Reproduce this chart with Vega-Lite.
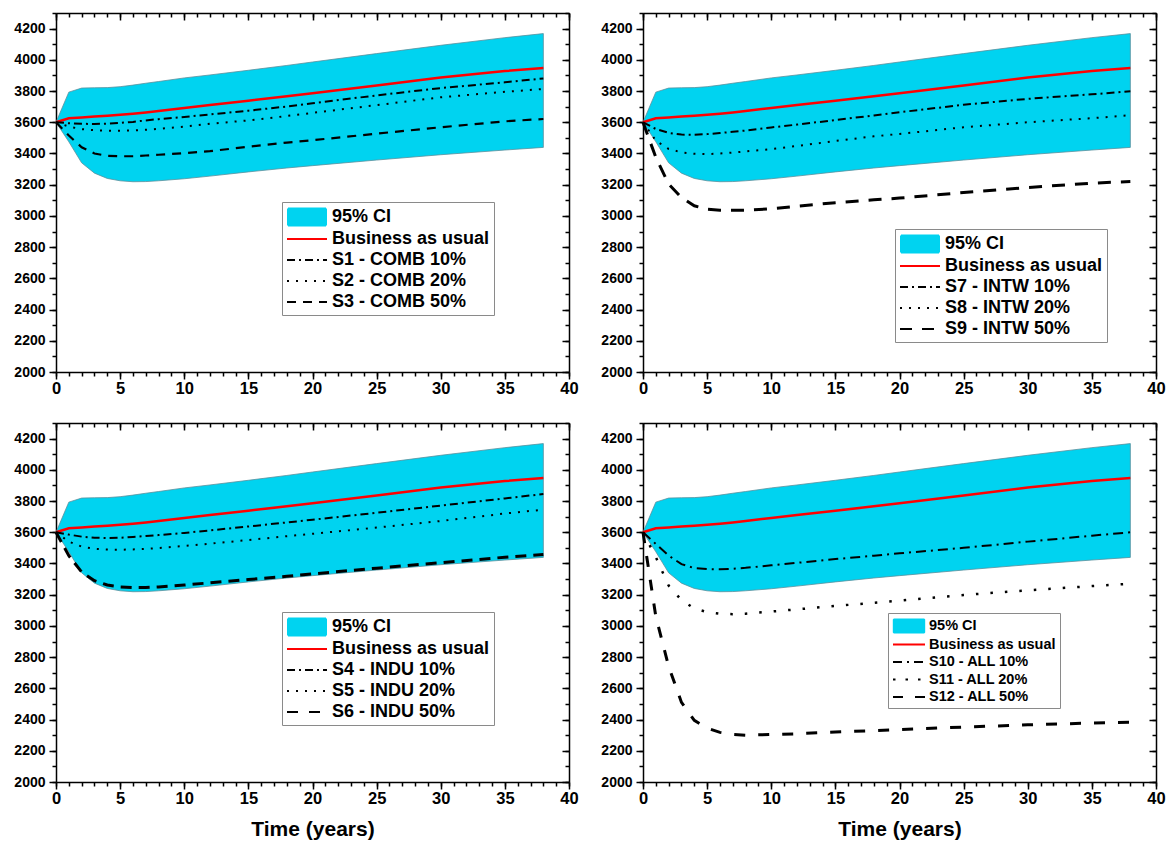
{
  "$schema": "https://vega.github.io/schema/vega-lite/v6.json",
  "background": "white",
  "padding": {"left": 13, "top": 12, "right": 0, "bottom": 2},
  "columns": 2,
  "spacing": {"row": 51, "column": 74},
  "bounds": "flush",
  "datasets": {
    "ci": [
      {"series":"95% CI","t":0,"hi":3600,"lo":3600},
      {"series":"95% CI","t":1,"hi":3793,"lo":3475},
      {"series":"95% CI","t":2,"hi":3819,"lo":3340},
      {"series":"95% CI","t":3,"hi":3821,"lo":3274},
      {"series":"95% CI","t":4,"hi":3822,"lo":3240},
      {"series":"95% CI","t":5,"hi":3828,"lo":3225},
      {"series":"95% CI","t":6,"hi":3838,"lo":3219},
      {"series":"95% CI","t":7,"hi":3850,"lo":3220},
      {"series":"95% CI","t":8,"hi":3861,"lo":3225},
      {"series":"95% CI","t":10,"hi":3884,"lo":3238},
      {"series":"95% CI","t":12,"hi":3903,"lo":3255},
      {"series":"95% CI","t":15,"hi":3933,"lo":3282},
      {"series":"95% CI","t":18,"hi":3964,"lo":3307},
      {"series":"95% CI","t":20,"hi":3986,"lo":3322},
      {"series":"95% CI","t":25,"hi":4040,"lo":3358},
      {"series":"95% CI","t":30,"hi":4093,"lo":3392},
      {"series":"95% CI","t":35,"hi":4142,"lo":3422},
      {"series":"95% CI","t":38,"hi":4168,"lo":3439}
    ],
    "lines": [
      {"series":"Business as usual","t":0,"v":3600},{"series":"Business as usual","t":1,"v":3625},{"series":"Business as usual","t":2,"v":3631},{"series":"Business as usual","t":3,"v":3637},{"series":"Business as usual","t":4,"v":3642},{"series":"Business as usual","t":5,"v":3648},{"series":"Business as usual","t":6,"v":3655},{"series":"Business as usual","t":7,"v":3663},{"series":"Business as usual","t":8,"v":3672},{"series":"Business as usual","t":10,"v":3692},{"series":"Business as usual","t":12,"v":3710},{"series":"Business as usual","t":15,"v":3738},{"series":"Business as usual","t":18,"v":3766},{"series":"Business as usual","t":20,"v":3786},{"series":"Business as usual","t":25,"v":3835},{"series":"Business as usual","t":30,"v":3887},{"series":"Business as usual","t":35,"v":3928},{"series":"Business as usual","t":38,"v":3948},

      {"series":"S1 - COMB 10%","t":0,"v":3600},{"series":"S1 - COMB 10%","t":1,"v":3594},{"series":"S1 - COMB 10%","t":2,"v":3590},{"series":"S1 - COMB 10%","t":3,"v":3589},{"series":"S1 - COMB 10%","t":4,"v":3591},{"series":"S1 - COMB 10%","t":5,"v":3596},{"series":"S1 - COMB 10%","t":6,"v":3602},{"series":"S1 - COMB 10%","t":7,"v":3612},{"series":"S1 - COMB 10%","t":8,"v":3620},{"series":"S1 - COMB 10%","t":10,"v":3634},{"series":"S1 - COMB 10%","t":12,"v":3650},{"series":"S1 - COMB 10%","t":15,"v":3674},{"series":"S1 - COMB 10%","t":18,"v":3701},{"series":"S1 - COMB 10%","t":20,"v":3722},{"series":"S1 - COMB 10%","t":25,"v":3772},{"series":"S1 - COMB 10%","t":30,"v":3819},{"series":"S1 - COMB 10%","t":35,"v":3856},{"series":"S1 - COMB 10%","t":38,"v":3881},

      {"series":"S2 - COMB 20%","t":0,"v":3600},{"series":"S2 - COMB 20%","t":1,"v":3572},{"series":"S2 - COMB 20%","t":2,"v":3556},{"series":"S2 - COMB 20%","t":3,"v":3549},{"series":"S2 - COMB 20%","t":4,"v":3546},{"series":"S2 - COMB 20%","t":5,"v":3546},{"series":"S2 - COMB 20%","t":6,"v":3548},{"series":"S2 - COMB 20%","t":7,"v":3552},{"series":"S2 - COMB 20%","t":8,"v":3558},{"series":"S2 - COMB 20%","t":10,"v":3572},{"series":"S2 - COMB 20%","t":12,"v":3590},{"series":"S2 - COMB 20%","t":15,"v":3612},{"series":"S2 - COMB 20%","t":18,"v":3640},{"series":"S2 - COMB 20%","t":20,"v":3660},{"series":"S2 - COMB 20%","t":25,"v":3710},{"series":"S2 - COMB 20%","t":30,"v":3760},{"series":"S2 - COMB 20%","t":35,"v":3795},{"series":"S2 - COMB 20%","t":38,"v":3813},

      {"series":"S3 - COMB 50%","t":0,"v":3600},{"series":"S3 - COMB 50%","t":1,"v":3515},{"series":"S3 - COMB 50%","t":2,"v":3440},{"series":"S3 - COMB 50%","t":3,"v":3400},{"series":"S3 - COMB 50%","t":4,"v":3385},{"series":"S3 - COMB 50%","t":5,"v":3382},{"series":"S3 - COMB 50%","t":6,"v":3383},{"series":"S3 - COMB 50%","t":7,"v":3387},{"series":"S3 - COMB 50%","t":8,"v":3392},{"series":"S3 - COMB 50%","t":10,"v":3402},{"series":"S3 - COMB 50%","t":12,"v":3415},{"series":"S3 - COMB 50%","t":15,"v":3443},{"series":"S3 - COMB 50%","t":18,"v":3470},{"series":"S3 - COMB 50%","t":20,"v":3485},{"series":"S3 - COMB 50%","t":25,"v":3527},{"series":"S3 - COMB 50%","t":30,"v":3568},{"series":"S3 - COMB 50%","t":35,"v":3606},{"series":"S3 - COMB 50%","t":38,"v":3621},

      {"series":"S7 - INTW 10%","t":0,"v":3600},{"series":"S7 - INTW 10%","t":1,"v":3557},{"series":"S7 - INTW 10%","t":2,"v":3532},{"series":"S7 - INTW 10%","t":3,"v":3521},{"series":"S7 - INTW 10%","t":4,"v":3520},{"series":"S7 - INTW 10%","t":5,"v":3524},{"series":"S7 - INTW 10%","t":6,"v":3531},{"series":"S7 - INTW 10%","t":7,"v":3539},{"series":"S7 - INTW 10%","t":8,"v":3547},{"series":"S7 - INTW 10%","t":10,"v":3567},{"series":"S7 - INTW 10%","t":12,"v":3585},{"series":"S7 - INTW 10%","t":15,"v":3614},{"series":"S7 - INTW 10%","t":18,"v":3644},{"series":"S7 - INTW 10%","t":20,"v":3664},{"series":"S7 - INTW 10%","t":25,"v":3712},{"series":"S7 - INTW 10%","t":30,"v":3750},{"series":"S7 - INTW 10%","t":35,"v":3779},{"series":"S7 - INTW 10%","t":38,"v":3798},

      {"series":"S8 - INTW 20%","t":0,"v":3600},{"series":"S8 - INTW 20%","t":1,"v":3482},{"series":"S8 - INTW 20%","t":2,"v":3429},{"series":"S8 - INTW 20%","t":3,"v":3407},{"series":"S8 - INTW 20%","t":4,"v":3398},{"series":"S8 - INTW 20%","t":5,"v":3396},{"series":"S8 - INTW 20%","t":6,"v":3400},{"series":"S8 - INTW 20%","t":7,"v":3406},{"series":"S8 - INTW 20%","t":8,"v":3413},{"series":"S8 - INTW 20%","t":10,"v":3428},{"series":"S8 - INTW 20%","t":12,"v":3448},{"series":"S8 - INTW 20%","t":15,"v":3480},{"series":"S8 - INTW 20%","t":18,"v":3510},{"series":"S8 - INTW 20%","t":20,"v":3525},{"series":"S8 - INTW 20%","t":25,"v":3568},{"series":"S8 - INTW 20%","t":30,"v":3600},{"series":"S8 - INTW 20%","t":35,"v":3626},{"series":"S8 - INTW 20%","t":38,"v":3645},

      {"series":"S9 - INTW 50%","t":0,"v":3600},{"series":"S9 - INTW 50%","t":1,"v":3375},{"series":"S9 - INTW 50%","t":2,"v":3204},{"series":"S9 - INTW 50%","t":3,"v":3118},{"series":"S9 - INTW 50%","t":4,"v":3065},{"series":"S9 - INTW 50%","t":5,"v":3043},{"series":"S9 - INTW 50%","t":6,"v":3037},{"series":"S9 - INTW 50%","t":7,"v":3036},{"series":"S9 - INTW 50%","t":8,"v":3037},{"series":"S9 - INTW 50%","t":10,"v":3046},{"series":"S9 - INTW 50%","t":12,"v":3062},{"series":"S9 - INTW 50%","t":15,"v":3085},{"series":"S9 - INTW 50%","t":18,"v":3103},{"series":"S9 - INTW 50%","t":20,"v":3114},{"series":"S9 - INTW 50%","t":25,"v":3150},{"series":"S9 - INTW 50%","t":30,"v":3182},{"series":"S9 - INTW 50%","t":35,"v":3210},{"series":"S9 - INTW 50%","t":38,"v":3220},

      {"series":"S4 - INDU 10%","t":0,"v":3600},{"series":"S4 - INDU 10%","t":1,"v":3585},{"series":"S4 - INDU 10%","t":2,"v":3572},{"series":"S4 - INDU 10%","t":3,"v":3565},{"series":"S4 - INDU 10%","t":4,"v":3563},{"series":"S4 - INDU 10%","t":5,"v":3565},{"series":"S4 - INDU 10%","t":6,"v":3570},{"series":"S4 - INDU 10%","t":7,"v":3576},{"series":"S4 - INDU 10%","t":8,"v":3582},{"series":"S4 - INDU 10%","t":10,"v":3596},{"series":"S4 - INDU 10%","t":12,"v":3612},{"series":"S4 - INDU 10%","t":15,"v":3637},{"series":"S4 - INDU 10%","t":18,"v":3663},{"series":"S4 - INDU 10%","t":20,"v":3680},{"series":"S4 - INDU 10%","t":25,"v":3725},{"series":"S4 - INDU 10%","t":30,"v":3771},{"series":"S4 - INDU 10%","t":35,"v":3817},{"series":"S4 - INDU 10%","t":38,"v":3845},

      {"series":"S5 - INDU 20%","t":0,"v":3600},{"series":"S5 - INDU 20%","t":1,"v":3540},{"series":"S5 - INDU 20%","t":2,"v":3508},{"series":"S5 - INDU 20%","t":3,"v":3494},{"series":"S5 - INDU 20%","t":4,"v":3489},{"series":"S5 - INDU 20%","t":5,"v":3488},{"series":"S5 - INDU 20%","t":6,"v":3490},{"series":"S5 - INDU 20%","t":7,"v":3494},{"series":"S5 - INDU 20%","t":8,"v":3499},{"series":"S5 - INDU 20%","t":10,"v":3512},{"series":"S5 - INDU 20%","t":12,"v":3527},{"series":"S5 - INDU 20%","t":15,"v":3550},{"series":"S5 - INDU 20%","t":18,"v":3575},{"series":"S5 - INDU 20%","t":20,"v":3590},{"series":"S5 - INDU 20%","t":25,"v":3630},{"series":"S5 - INDU 20%","t":30,"v":3672},{"series":"S5 - INDU 20%","t":35,"v":3720},{"series":"S5 - INDU 20%","t":38,"v":3745},

      {"series":"S6 - INDU 50%","t":0,"v":3600},{"series":"S6 - INDU 50%","t":1,"v":3450},{"series":"S6 - INDU 50%","t":2,"v":3345},{"series":"S6 - INDU 50%","t":3,"v":3290},{"series":"S6 - INDU 50%","t":4,"v":3262},{"series":"S6 - INDU 50%","t":5,"v":3250},{"series":"S6 - INDU 50%","t":6,"v":3246},{"series":"S6 - INDU 50%","t":7,"v":3246},{"series":"S6 - INDU 50%","t":8,"v":3250},{"series":"S6 - INDU 50%","t":10,"v":3262},{"series":"S6 - INDU 50%","t":12,"v":3276},{"series":"S6 - INDU 50%","t":15,"v":3297},{"series":"S6 - INDU 50%","t":18,"v":3318},{"series":"S6 - INDU 50%","t":20,"v":3333},{"series":"S6 - INDU 50%","t":25,"v":3370},{"series":"S6 - INDU 50%","t":30,"v":3405},{"series":"S6 - INDU 50%","t":35,"v":3440},{"series":"S6 - INDU 50%","t":38,"v":3458},

      {"series":"S10 - ALL 10%","t":0,"v":3600},{"series":"S10 - ALL 10%","t":1,"v":3525},{"series":"S10 - ALL 10%","t":2,"v":3450},{"series":"S10 - ALL 10%","t":3,"v":3396},{"series":"S10 - ALL 10%","t":4,"v":3370},{"series":"S10 - ALL 10%","t":5,"v":3364},{"series":"S10 - ALL 10%","t":6,"v":3363},{"series":"S10 - ALL 10%","t":7,"v":3366},{"series":"S10 - ALL 10%","t":8,"v":3372},{"series":"S10 - ALL 10%","t":10,"v":3388},{"series":"S10 - ALL 10%","t":12,"v":3404},{"series":"S10 - ALL 10%","t":15,"v":3428},{"series":"S10 - ALL 10%","t":18,"v":3450},{"series":"S10 - ALL 10%","t":20,"v":3465},{"series":"S10 - ALL 10%","t":25,"v":3500},{"series":"S10 - ALL 10%","t":30,"v":3540},{"series":"S10 - ALL 10%","t":35,"v":3578},{"series":"S10 - ALL 10%","t":38,"v":3600},

      {"series":"S11 - ALL 20%","t":0,"v":3600},{"series":"S11 - ALL 20%","t":1,"v":3440},{"series":"S11 - ALL 20%","t":2,"v":3258},{"series":"S11 - ALL 20%","t":3,"v":3165},{"series":"S11 - ALL 20%","t":4,"v":3112},{"series":"S11 - ALL 20%","t":5,"v":3088},{"series":"S11 - ALL 20%","t":6,"v":3078},{"series":"S11 - ALL 20%","t":7,"v":3075},{"series":"S11 - ALL 20%","t":8,"v":3078},{"series":"S11 - ALL 20%","t":10,"v":3092},{"series":"S11 - ALL 20%","t":12,"v":3106},{"series":"S11 - ALL 20%","t":15,"v":3128},{"series":"S11 - ALL 20%","t":18,"v":3148},{"series":"S11 - ALL 20%","t":20,"v":3162},{"series":"S11 - ALL 20%","t":25,"v":3198},{"series":"S11 - ALL 20%","t":30,"v":3228},{"series":"S11 - ALL 20%","t":35,"v":3255},{"series":"S11 - ALL 20%","t":38,"v":3270},

      {"series":"S12 - ALL 50%","t":0,"v":3600},{"series":"S12 - ALL 50%","t":1,"v":3060},{"series":"S12 - ALL 50%","t":2,"v":2740},{"series":"S12 - ALL 50%","t":3,"v":2510},{"series":"S12 - ALL 50%","t":4,"v":2395},{"series":"S12 - ALL 50%","t":5,"v":2345},{"series":"S12 - ALL 50%","t":6,"v":2318},{"series":"S12 - ALL 50%","t":7,"v":2304},{"series":"S12 - ALL 50%","t":8,"v":2300},{"series":"S12 - ALL 50%","t":10,"v":2304},{"series":"S12 - ALL 50%","t":12,"v":2309},{"series":"S12 - ALL 50%","t":15,"v":2320},{"series":"S12 - ALL 50%","t":18,"v":2329},{"series":"S12 - ALL 50%","t":20,"v":2336},{"series":"S12 - ALL 50%","t":25,"v":2352},{"series":"S12 - ALL 50%","t":30,"v":2366},{"series":"S12 - ALL 50%","t":35,"v":2378},{"series":"S12 - ALL 50%","t":38,"v":2383}
    ]
  },
  "concat": [
    {
      "width": 513, "height": 359,
      "resolve": {"axis": {"x": "independent", "y": "independent"}},
      "layer": [
        {"data": {"name": "ci"}, "mark": {"type": "area", "stroke": "#5a8f9c", "strokeWidth": 0.8, "opacity": 1},
         "encoding": {
           "x": {"field": "t", "type": "quantitative", "scale": {"domain": [0, 40], "nice": false}, "axis": {"orient": "bottom", "values": [0,5,10,15,20,25,30,35,40], "tickSize": 7, "labelFontSize": 16.5, "labelPadding": 1, "labelFlush": false, "labelOverlap": false, "title": null}},
           "y": {"field": "hi", "type": "quantitative", "scale": {"domain": [2000, 4300], "nice": false, "zero": false}, "axis": {"orient": "left", "values": [2000,2200,2400,2600,2800,3000,3200,3400,3600,3800,4000,4200], "format": "d", "tickSize": 7, "labelFontSize": 14, "labelPadding": 4, "labelFlush": false, "labelOverlap": false, "title": null}},
           "y2": {"field": "lo"},
           "color": {"field": "series", "type": "nominal", "scale": {"domain": ["95% CI","Business as usual","S1 - COMB 10%","S2 - COMB 20%","S3 - COMB 50%"], "range": ["#00d3f0","#ff0000","#000000","#000000","#000000"]},
             "legend": {"orient": "none", "legendX": 226, "legendY": 189, "title": null, "padding": 4, "fillColor": "white", "strokeColor": "#8a8a8a", "symbolSize": 400, "symbolStrokeWidth": 2, "labelFont": "Liberation Sans", "labelFontSize": 18, "labelFontWeight": "bold", "labelColor": "black", "labelOffset": 24, "labelLimit": 400, "rowPadding": 1,
               "encoding": {"symbols": {
                 "shape": {"condition": {"test": "datum.index === 0", "value": "M-0.9,-0.85H2.9V0.85H-0.9Z"}, "value": "M-1,0H3"},
                 "fill": {"condition": {"test": "datum.index === 0", "value": "#00d3f0"}, "value": "transparent"},
                 "stroke": {"condition": [{"test": "datum.index === 0", "value": "#3fb3c8"}, {"test": "datum.index === 1", "value": "#ff0000"}], "value": "#000000"},
                 "strokeDash": {"condition": [{"test": "datum.index === 2", "value": [8,4,2,4]}, {"test": "datum.index === 3", "value": [2,7]}, {"test": "datum.index === 4", "value": [9,7]}], "value": [1,0]},
                 "strokeJoin": {"value": "bevel"},
                 "opacity": {"value": 1}}}}}
         }},
        {"data": {"name": "lines"}, "transform": [{"filter": "datum.series === 'Business as usual'"}], "mark": {"type": "line", "strokeWidth": 2.5},
         "encoding": {
           "x": {"field": "t", "type": "quantitative", "scale": {"domain": [0, 40], "nice": false}, "axis": {"orient": "bottom", "values": [0,1,2,3,4,5,6,7,8,9,10,11,12,13,14,15,16,17,18,19,20,21,22,23,24,25,26,27,28,29,30,31,32,33,34,35,36,37,38,39,40], "tickSize": 4, "labels": false, "domain": false, "title": null}},
           "y": {"field": "v", "type": "quantitative", "scale": {"domain": [2000, 4300], "nice": false, "zero": false}, "axis": {"orient": "left", "values": [2000,2100,2200,2300,2400,2500,2600,2700,2800,2900,3000,3100,3200,3300,3400,3500,3600,3700,3800,3900,4000,4100,4200,4300], "tickSize": 4, "labels": false, "domain": false, "title": null}},
           "color": {"field": "series", "type": "nominal", "scale": {"domain": ["95% CI","Business as usual","S1 - COMB 10%","S2 - COMB 20%","S3 - COMB 50%"], "range": ["#00d3f0","#ff0000","#000000","#000000","#000000"]}, "legend": null}
         }},
        {"data": {"name": "lines"}, "transform": [{"filter": "datum.series === 'S1 - COMB 10%'"}], "mark": {"type": "line", "strokeWidth": 2, "strokeDash": [8,4,2,4]},
         "encoding": {
           "x": {"field": "t", "type": "quantitative", "scale": {"domain": [0, 40], "nice": false}, "axis": {"orient": "top", "values": [0,5,10,15,20,25,30,35,40], "tickSize": -7, "labels": false, "title": null}},
           "y": {"field": "v", "type": "quantitative", "scale": {"domain": [2000, 4300], "nice": false, "zero": false}, "axis": {"orient": "right", "values": [2000,2200,2400,2600,2800,3000,3200,3400,3600,3800,4000,4200], "tickSize": -7, "labels": false, "title": null}},
           "color": {"field": "series", "type": "nominal", "scale": {"domain": ["95% CI","Business as usual","S1 - COMB 10%","S2 - COMB 20%","S3 - COMB 50%"], "range": ["#00d3f0","#ff0000","#000000","#000000","#000000"]}, "legend": null}
         }},
        {"data": {"name": "lines"}, "transform": [{"filter": "datum.series === 'S2 - COMB 20%'"}], "mark": {"type": "line", "strokeWidth": 2, "strokeDash": [2,7]},
         "encoding": {
           "x": {"field": "t", "type": "quantitative", "scale": {"domain": [0, 40], "nice": false}, "axis": {"orient": "top", "values": [0,1,2,3,4,5,6,7,8,9,10,11,12,13,14,15,16,17,18,19,20,21,22,23,24,25,26,27,28,29,30,31,32,33,34,35,36,37,38,39,40], "tickSize": -4, "labels": false, "domain": false, "title": null}},
           "y": {"field": "v", "type": "quantitative", "scale": {"domain": [2000, 4300], "nice": false, "zero": false}, "axis": {"orient": "right", "values": [2000,2100,2200,2300,2400,2500,2600,2700,2800,2900,3000,3100,3200,3300,3400,3500,3600,3700,3800,3900,4000,4100,4200,4300], "tickSize": -4, "labels": false, "domain": false, "title": null}},
           "color": {"field": "series", "type": "nominal", "scale": {"domain": ["95% CI","Business as usual","S1 - COMB 10%","S2 - COMB 20%","S3 - COMB 50%"], "range": ["#00d3f0","#ff0000","#000000","#000000","#000000"]}, "legend": null}
         }},
        {"data": {"name": "lines"}, "transform": [{"filter": "datum.series === 'S3 - COMB 50%'"}], "mark": {"type": "line", "strokeWidth": 2.2, "strokeDash": [9,7]},
         "encoding": {
           "x": {"field": "t", "type": "quantitative", "scale": {"domain": [0, 40], "nice": false}, "axis": null},
           "y": {"field": "v", "type": "quantitative", "scale": {"domain": [2000, 4300], "nice": false, "zero": false}, "axis": null},
           "color": {"field": "series", "type": "nominal", "scale": {"domain": ["95% CI","Business as usual","S1 - COMB 10%","S2 - COMB 20%","S3 - COMB 50%"], "range": ["#00d3f0","#ff0000","#000000","#000000","#000000"]}, "legend": null}
         }}
      ]
    },
    {
      "width": 513, "height": 359,
      "resolve": {"axis": {"x": "independent", "y": "independent"}},
      "layer": [
        {"data": {"name": "ci"}, "mark": {"type": "area", "stroke": "#5a8f9c", "strokeWidth": 0.8, "opacity": 1},
         "encoding": {
           "x": {"field": "t", "type": "quantitative", "scale": {"domain": [0, 40], "nice": false}, "axis": {"orient": "bottom", "values": [0,5,10,15,20,25,30,35,40], "tickSize": 7, "labelFontSize": 16.5, "labelPadding": 1, "labelFlush": false, "labelOverlap": false, "title": null}},
           "y": {"field": "hi", "type": "quantitative", "scale": {"domain": [2000, 4300], "nice": false, "zero": false}, "axis": {"orient": "left", "values": [2000,2200,2400,2600,2800,3000,3200,3400,3600,3800,4000,4200], "format": "d", "tickSize": 7, "labelFontSize": 14, "labelPadding": 4, "labelFlush": false, "labelOverlap": false, "title": null}},
           "y2": {"field": "lo"},
           "color": {"field": "series", "type": "nominal", "scale": {"domain": ["95% CI","Business as usual","S7 - INTW 10%","S8 - INTW 20%","S9 - INTW 50%"], "range": ["#00d3f0","#ff0000","#000000","#000000","#000000"]},
             "legend": {"orient": "none", "legendX": 252, "legendY": 216, "title": null, "padding": 4, "fillColor": "white", "strokeColor": "#8a8a8a", "symbolSize": 400, "symbolStrokeWidth": 2, "labelFont": "Liberation Sans", "labelFontSize": 18, "labelFontWeight": "bold", "labelColor": "black", "labelOffset": 24, "labelLimit": 400, "rowPadding": 1,
               "encoding": {"symbols": {
                 "shape": {"condition": {"test": "datum.index === 0", "value": "M-0.9,-0.85H2.9V0.85H-0.9Z"}, "value": "M-1,0H3"},
                 "fill": {"condition": {"test": "datum.index === 0", "value": "#00d3f0"}, "value": "transparent"},
                 "stroke": {"condition": [{"test": "datum.index === 0", "value": "#3fb3c8"}, {"test": "datum.index === 1", "value": "#ff0000"}], "value": "#000000"},
                 "strokeDash": {"condition": [{"test": "datum.index === 2", "value": [8,4,2,4]}, {"test": "datum.index === 3", "value": [2,7]}, {"test": "datum.index === 4", "value": [12,10]}], "value": [1,0]},
                 "strokeJoin": {"value": "bevel"},
                 "opacity": {"value": 1}}}}}
         }},
        {"data": {"name": "lines"}, "transform": [{"filter": "datum.series === 'Business as usual'"}], "mark": {"type": "line", "strokeWidth": 2.5},
         "encoding": {
           "x": {"field": "t", "type": "quantitative", "scale": {"domain": [0, 40], "nice": false}, "axis": {"orient": "bottom", "values": [0,1,2,3,4,5,6,7,8,9,10,11,12,13,14,15,16,17,18,19,20,21,22,23,24,25,26,27,28,29,30,31,32,33,34,35,36,37,38,39,40], "tickSize": 4, "labels": false, "domain": false, "title": null}},
           "y": {"field": "v", "type": "quantitative", "scale": {"domain": [2000, 4300], "nice": false, "zero": false}, "axis": {"orient": "left", "values": [2000,2100,2200,2300,2400,2500,2600,2700,2800,2900,3000,3100,3200,3300,3400,3500,3600,3700,3800,3900,4000,4100,4200,4300], "tickSize": 4, "labels": false, "domain": false, "title": null}},
           "color": {"field": "series", "type": "nominal", "scale": {"domain": ["95% CI","Business as usual","S7 - INTW 10%","S8 - INTW 20%","S9 - INTW 50%"], "range": ["#00d3f0","#ff0000","#000000","#000000","#000000"]}, "legend": null}
         }},
        {"data": {"name": "lines"}, "transform": [{"filter": "datum.series === 'S7 - INTW 10%'"}], "mark": {"type": "line", "strokeWidth": 2, "strokeDash": [8,4,2,4]},
         "encoding": {
           "x": {"field": "t", "type": "quantitative", "scale": {"domain": [0, 40], "nice": false}, "axis": {"orient": "top", "values": [0,5,10,15,20,25,30,35,40], "tickSize": -7, "labels": false, "title": null}},
           "y": {"field": "v", "type": "quantitative", "scale": {"domain": [2000, 4300], "nice": false, "zero": false}, "axis": {"orient": "right", "values": [2000,2200,2400,2600,2800,3000,3200,3400,3600,3800,4000,4200], "tickSize": -7, "labels": false, "title": null}},
           "color": {"field": "series", "type": "nominal", "scale": {"domain": ["95% CI","Business as usual","S7 - INTW 10%","S8 - INTW 20%","S9 - INTW 50%"], "range": ["#00d3f0","#ff0000","#000000","#000000","#000000"]}, "legend": null}
         }},
        {"data": {"name": "lines"}, "transform": [{"filter": "datum.series === 'S8 - INTW 20%'"}], "mark": {"type": "line", "strokeWidth": 2, "strokeDash": [2,7]},
         "encoding": {
           "x": {"field": "t", "type": "quantitative", "scale": {"domain": [0, 40], "nice": false}, "axis": {"orient": "top", "values": [0,1,2,3,4,5,6,7,8,9,10,11,12,13,14,15,16,17,18,19,20,21,22,23,24,25,26,27,28,29,30,31,32,33,34,35,36,37,38,39,40], "tickSize": -4, "labels": false, "domain": false, "title": null}},
           "y": {"field": "v", "type": "quantitative", "scale": {"domain": [2000, 4300], "nice": false, "zero": false}, "axis": {"orient": "right", "values": [2000,2100,2200,2300,2400,2500,2600,2700,2800,2900,3000,3100,3200,3300,3400,3500,3600,3700,3800,3900,4000,4100,4200,4300], "tickSize": -4, "labels": false, "domain": false, "title": null}},
           "color": {"field": "series", "type": "nominal", "scale": {"domain": ["95% CI","Business as usual","S7 - INTW 10%","S8 - INTW 20%","S9 - INTW 50%"], "range": ["#00d3f0","#ff0000","#000000","#000000","#000000"]}, "legend": null}
         }},
        {"data": {"name": "lines"}, "transform": [{"filter": "datum.series === 'S9 - INTW 50%'"}], "mark": {"type": "line", "strokeWidth": 3, "strokeDash": [13,10]},
         "encoding": {
           "x": {"field": "t", "type": "quantitative", "scale": {"domain": [0, 40], "nice": false}, "axis": null},
           "y": {"field": "v", "type": "quantitative", "scale": {"domain": [2000, 4300], "nice": false, "zero": false}, "axis": null},
           "color": {"field": "series", "type": "nominal", "scale": {"domain": ["95% CI","Business as usual","S7 - INTW 10%","S8 - INTW 20%","S9 - INTW 50%"], "range": ["#00d3f0","#ff0000","#000000","#000000","#000000"]}, "legend": null}
         }}
      ]
    },
    {
      "width": 513, "height": 359,
      "resolve": {"axis": {"x": "independent", "y": "independent"}},
      "layer": [
        {"data": {"name": "ci"}, "mark": {"type": "area", "stroke": "#5a8f9c", "strokeWidth": 0.8, "opacity": 1},
         "encoding": {
           "x": {"field": "t", "type": "quantitative", "scale": {"domain": [0, 40], "nice": false}, "axis": {"orient": "bottom", "values": [0,5,10,15,20,25,30,35,40], "tickSize": 7, "labelFontSize": 16.5, "labelPadding": 1, "labelFlush": false, "labelOverlap": false, "title": "Time (years)", "titleFontSize": 21, "titleFontWeight": "bold", "titleFont": "Liberation Sans", "titleColor": "black", "titlePadding": 12}},
           "y": {"field": "hi", "type": "quantitative", "scale": {"domain": [2000, 4300], "nice": false, "zero": false}, "axis": {"orient": "left", "values": [2000,2200,2400,2600,2800,3000,3200,3400,3600,3800,4000,4200], "format": "d", "tickSize": 7, "labelFontSize": 14, "labelPadding": 4, "labelFlush": false, "labelOverlap": false, "title": null}},
           "y2": {"field": "lo"},
           "color": {"field": "series", "type": "nominal", "scale": {"domain": ["95% CI","Business as usual","S4 - INDU 10%","S5 - INDU 20%","S6 - INDU 50%"], "range": ["#00d3f0","#ff0000","#000000","#000000","#000000"]},
             "legend": {"orient": "none", "legendX": 226, "legendY": 189, "title": null, "padding": 4, "fillColor": "white", "strokeColor": "#8a8a8a", "symbolSize": 400, "symbolStrokeWidth": 2, "labelFont": "Liberation Sans", "labelFontSize": 18, "labelFontWeight": "bold", "labelColor": "black", "labelOffset": 24, "labelLimit": 400, "rowPadding": 1,
               "encoding": {"symbols": {
                 "shape": {"condition": {"test": "datum.index === 0", "value": "M-0.9,-0.85H2.9V0.85H-0.9Z"}, "value": "M-1,0H3"},
                 "fill": {"condition": {"test": "datum.index === 0", "value": "#00d3f0"}, "value": "transparent"},
                 "stroke": {"condition": [{"test": "datum.index === 0", "value": "#3fb3c8"}, {"test": "datum.index === 1", "value": "#ff0000"}], "value": "#000000"},
                 "strokeDash": {"condition": [{"test": "datum.index === 2", "value": [8,4,2,4]}, {"test": "datum.index === 3", "value": [2,7]}, {"test": "datum.index === 4", "value": [11,11]}], "value": [1,0]},
                 "strokeJoin": {"value": "bevel"},
                 "opacity": {"value": 1}}}}}
         }},
        {"data": {"name": "lines"}, "transform": [{"filter": "datum.series === 'Business as usual'"}], "mark": {"type": "line", "strokeWidth": 2.5},
         "encoding": {
           "x": {"field": "t", "type": "quantitative", "scale": {"domain": [0, 40], "nice": false}, "axis": {"orient": "bottom", "values": [0,1,2,3,4,5,6,7,8,9,10,11,12,13,14,15,16,17,18,19,20,21,22,23,24,25,26,27,28,29,30,31,32,33,34,35,36,37,38,39,40], "tickSize": 4, "labels": false, "domain": false, "title": null}},
           "y": {"field": "v", "type": "quantitative", "scale": {"domain": [2000, 4300], "nice": false, "zero": false}, "axis": {"orient": "left", "values": [2000,2100,2200,2300,2400,2500,2600,2700,2800,2900,3000,3100,3200,3300,3400,3500,3600,3700,3800,3900,4000,4100,4200,4300], "tickSize": 4, "labels": false, "domain": false, "title": null}},
           "color": {"field": "series", "type": "nominal", "scale": {"domain": ["95% CI","Business as usual","S4 - INDU 10%","S5 - INDU 20%","S6 - INDU 50%"], "range": ["#00d3f0","#ff0000","#000000","#000000","#000000"]}, "legend": null}
         }},
        {"data": {"name": "lines"}, "transform": [{"filter": "datum.series === 'S4 - INDU 10%'"}], "mark": {"type": "line", "strokeWidth": 2, "strokeDash": [8,4,2,4]},
         "encoding": {
           "x": {"field": "t", "type": "quantitative", "scale": {"domain": [0, 40], "nice": false}, "axis": {"orient": "top", "values": [0,5,10,15,20,25,30,35,40], "tickSize": -7, "labels": false, "title": null}},
           "y": {"field": "v", "type": "quantitative", "scale": {"domain": [2000, 4300], "nice": false, "zero": false}, "axis": {"orient": "right", "values": [2000,2200,2400,2600,2800,3000,3200,3400,3600,3800,4000,4200], "tickSize": -7, "labels": false, "title": null}},
           "color": {"field": "series", "type": "nominal", "scale": {"domain": ["95% CI","Business as usual","S4 - INDU 10%","S5 - INDU 20%","S6 - INDU 50%"], "range": ["#00d3f0","#ff0000","#000000","#000000","#000000"]}, "legend": null}
         }},
        {"data": {"name": "lines"}, "transform": [{"filter": "datum.series === 'S5 - INDU 20%'"}], "mark": {"type": "line", "strokeWidth": 2, "strokeDash": [2,7]},
         "encoding": {
           "x": {"field": "t", "type": "quantitative", "scale": {"domain": [0, 40], "nice": false}, "axis": {"orient": "top", "values": [0,1,2,3,4,5,6,7,8,9,10,11,12,13,14,15,16,17,18,19,20,21,22,23,24,25,26,27,28,29,30,31,32,33,34,35,36,37,38,39,40], "tickSize": -4, "labels": false, "domain": false, "title": null}},
           "y": {"field": "v", "type": "quantitative", "scale": {"domain": [2000, 4300], "nice": false, "zero": false}, "axis": {"orient": "right", "values": [2000,2100,2200,2300,2400,2500,2600,2700,2800,2900,3000,3100,3200,3300,3400,3500,3600,3700,3800,3900,4000,4100,4200,4300], "tickSize": -4, "labels": false, "domain": false, "title": null}},
           "color": {"field": "series", "type": "nominal", "scale": {"domain": ["95% CI","Business as usual","S4 - INDU 10%","S5 - INDU 20%","S6 - INDU 50%"], "range": ["#00d3f0","#ff0000","#000000","#000000","#000000"]}, "legend": null}
         }},
        {"data": {"name": "lines"}, "transform": [{"filter": "datum.series === 'S6 - INDU 50%'"}], "mark": {"type": "line", "strokeWidth": 3, "strokeDash": [11,7]},
         "encoding": {
           "x": {"field": "t", "type": "quantitative", "scale": {"domain": [0, 40], "nice": false}, "axis": null},
           "y": {"field": "v", "type": "quantitative", "scale": {"domain": [2000, 4300], "nice": false, "zero": false}, "axis": null},
           "color": {"field": "series", "type": "nominal", "scale": {"domain": ["95% CI","Business as usual","S4 - INDU 10%","S5 - INDU 20%","S6 - INDU 50%"], "range": ["#00d3f0","#ff0000","#000000","#000000","#000000"]}, "legend": null}
         }}
      ]
    },
    {
      "width": 513, "height": 359,
      "resolve": {"axis": {"x": "independent", "y": "independent"}},
      "layer": [
        {"data": {"name": "ci"}, "mark": {"type": "area", "stroke": "#5a8f9c", "strokeWidth": 0.8, "opacity": 1},
         "encoding": {
           "x": {"field": "t", "type": "quantitative", "scale": {"domain": [0, 40], "nice": false}, "axis": {"orient": "bottom", "values": [0,5,10,15,20,25,30,35,40], "tickSize": 7, "labelFontSize": 16.5, "labelPadding": 1, "labelFlush": false, "labelOverlap": false, "title": "Time (years)", "titleFontSize": 21, "titleFontWeight": "bold", "titleFont": "Liberation Sans", "titleColor": "black", "titlePadding": 12}},
           "y": {"field": "hi", "type": "quantitative", "scale": {"domain": [2000, 4300], "nice": false, "zero": false}, "axis": {"orient": "left", "values": [2000,2200,2400,2600,2800,3000,3200,3400,3600,3800,4000,4200], "format": "d", "tickSize": 7, "labelFontSize": 14, "labelPadding": 4, "labelFlush": false, "labelOverlap": false, "title": null}},
           "y2": {"field": "lo"},
           "color": {"field": "series", "type": "nominal", "scale": {"domain": ["95% CI","Business as usual","S10 - ALL 10%","S11 - ALL 20%","S12 - ALL 50%"], "range": ["#00d3f0","#ff0000","#000000","#000000","#000000"]},
             "legend": {"orient": "none", "legendX": 245, "legendY": 190, "title": null, "padding": 4, "fillColor": "white", "strokeColor": "#8a8a8a", "symbolSize": 256, "symbolStrokeWidth": 2, "labelFont": "Liberation Sans", "labelFontSize": 14.5, "labelFontWeight": "bold", "labelColor": "black", "labelOffset": 19, "labelLimit": 400, "rowPadding": 1.5,
               "encoding": {"symbols": {
                 "shape": {"condition": {"test": "datum.index === 0", "value": "M-0.9,-0.8H2.9V0.8H-0.9Z"}, "value": "M-1,0H3"},
                 "fill": {"condition": {"test": "datum.index === 0", "value": "#00d3f0"}, "value": "transparent"},
                 "stroke": {"condition": [{"test": "datum.index === 0", "value": "#3fb3c8"}, {"test": "datum.index === 1", "value": "#ff0000"}], "value": "#000000"},
                 "strokeDash": {"condition": [{"test": "datum.index === 2", "value": [9,5,2,5]}, {"test": "datum.index === 3", "value": [2.5,10]}, {"test": "datum.index === 4", "value": [10,12]}], "value": [1,0]},
                 "strokeJoin": {"value": "bevel"},
                 "opacity": {"value": 1}}}}}
         }},
        {"data": {"name": "lines"}, "transform": [{"filter": "datum.series === 'Business as usual'"}], "mark": {"type": "line", "strokeWidth": 2.5},
         "encoding": {
           "x": {"field": "t", "type": "quantitative", "scale": {"domain": [0, 40], "nice": false}, "axis": {"orient": "bottom", "values": [0,1,2,3,4,5,6,7,8,9,10,11,12,13,14,15,16,17,18,19,20,21,22,23,24,25,26,27,28,29,30,31,32,33,34,35,36,37,38,39,40], "tickSize": 4, "labels": false, "domain": false, "title": null}},
           "y": {"field": "v", "type": "quantitative", "scale": {"domain": [2000, 4300], "nice": false, "zero": false}, "axis": {"orient": "left", "values": [2000,2100,2200,2300,2400,2500,2600,2700,2800,2900,3000,3100,3200,3300,3400,3500,3600,3700,3800,3900,4000,4100,4200,4300], "tickSize": 4, "labels": false, "domain": false, "title": null}},
           "color": {"field": "series", "type": "nominal", "scale": {"domain": ["95% CI","Business as usual","S10 - ALL 10%","S11 - ALL 20%","S12 - ALL 50%"], "range": ["#00d3f0","#ff0000","#000000","#000000","#000000"]}, "legend": null}
         }},
        {"data": {"name": "lines"}, "transform": [{"filter": "datum.series === 'S10 - ALL 10%'"}], "mark": {"type": "line", "strokeWidth": 2, "strokeDash": [10,5,2,5]},
         "encoding": {
           "x": {"field": "t", "type": "quantitative", "scale": {"domain": [0, 40], "nice": false}, "axis": {"orient": "top", "values": [0,5,10,15,20,25,30,35,40], "tickSize": -7, "labels": false, "title": null}},
           "y": {"field": "v", "type": "quantitative", "scale": {"domain": [2000, 4300], "nice": false, "zero": false}, "axis": {"orient": "right", "values": [2000,2200,2400,2600,2800,3000,3200,3400,3600,3800,4000,4200], "tickSize": -7, "labels": false, "title": null}},
           "color": {"field": "series", "type": "nominal", "scale": {"domain": ["95% CI","Business as usual","S10 - ALL 10%","S11 - ALL 20%","S12 - ALL 50%"], "range": ["#00d3f0","#ff0000","#000000","#000000","#000000"]}, "legend": null}
         }},
        {"data": {"name": "lines"}, "transform": [{"filter": "datum.series === 'S11 - ALL 20%'"}], "mark": {"type": "line", "strokeWidth": 2.5, "strokeDash": [2.5,12]},
         "encoding": {
           "x": {"field": "t", "type": "quantitative", "scale": {"domain": [0, 40], "nice": false}, "axis": {"orient": "top", "values": [0,1,2,3,4,5,6,7,8,9,10,11,12,13,14,15,16,17,18,19,20,21,22,23,24,25,26,27,28,29,30,31,32,33,34,35,36,37,38,39,40], "tickSize": -4, "labels": false, "domain": false, "title": null}},
           "y": {"field": "v", "type": "quantitative", "scale": {"domain": [2000, 4300], "nice": false, "zero": false}, "axis": {"orient": "right", "values": [2000,2100,2200,2300,2400,2500,2600,2700,2800,2900,3000,3100,3200,3300,3400,3500,3600,3700,3800,3900,4000,4100,4200,4300], "tickSize": -4, "labels": false, "domain": false, "title": null}},
           "color": {"field": "series", "type": "nominal", "scale": {"domain": ["95% CI","Business as usual","S10 - ALL 10%","S11 - ALL 20%","S12 - ALL 50%"], "range": ["#00d3f0","#ff0000","#000000","#000000","#000000"]}, "legend": null}
         }},
        {"data": {"name": "lines"}, "transform": [{"filter": "datum.series === 'S12 - ALL 50%'"}], "mark": {"type": "line", "strokeWidth": 3, "strokeDash": [11,13]},
         "encoding": {
           "x": {"field": "t", "type": "quantitative", "scale": {"domain": [0, 40], "nice": false}, "axis": null},
           "y": {"field": "v", "type": "quantitative", "scale": {"domain": [2000, 4300], "nice": false, "zero": false}, "axis": null},
           "color": {"field": "series", "type": "nominal", "scale": {"domain": ["95% CI","Business as usual","S10 - ALL 10%","S11 - ALL 20%","S12 - ALL 50%"], "range": ["#00d3f0","#ff0000","#000000","#000000","#000000"]}, "legend": null}
         }}
      ]
    }
  ],
  "resolve": {"scale": {"color": "independent"}, "legend": {"color": "independent"}},
  "config": {
    "view": {"stroke": null},
    "axis": {"grid": false, "domainColor": "#000000", "domainWidth": 1.5, "tickColor": "#000000", "tickWidth": 1.5, "labelColor": "#000000", "labelFont": "Liberation Sans", "labelFontWeight": "bold", "titleFont": "Liberation Sans", "titleColor": "#000000"}
  }
}
